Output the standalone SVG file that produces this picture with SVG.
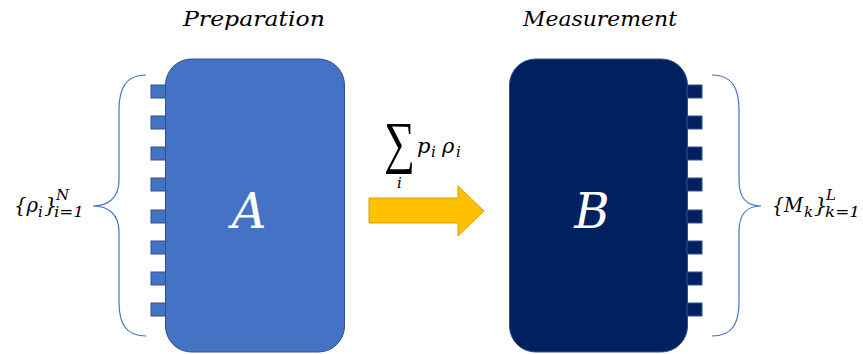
<svg xmlns="http://www.w3.org/2000/svg" width="863" height="354" viewBox="0 0 863 354">
<style>
.t{font-family:"DejaVu Serif","Liberation Serif",serif;font-style:italic;fill:#000}
.m{font-size:21px}
.s{font-size:15px}
.brace{fill:none;stroke:#4472C4;stroke-width:1.2}
.pa{fill:#4472C4;stroke:#2F528F;stroke-width:1}
.pb{fill:#002060;stroke:#2F5597;stroke-width:1}
</style>
<rect width="863" height="354" fill="#fff"/>
<g id="title-prep"><text class="t" x="183" y="26" font-size="21" textLength="142" lengthAdjust="spacingAndGlyphs">Preparation</text></g>
<g id="title-meas"><text class="t" x="523" y="26" font-size="21" textLength="154" lengthAdjust="spacingAndGlyphs">Measurement</text></g>
<g id="nodeA">
<rect x="151" y="85" width="16" height="13" class="pa"/>
<rect x="151" y="116" width="16" height="13" class="pa"/>
<rect x="151" y="147" width="16" height="13" class="pa"/>
<rect x="151" y="178" width="16" height="13" class="pa"/>
<rect x="151" y="210" width="16" height="13" class="pa"/>
<rect x="151" y="241" width="16" height="13" class="pa"/>
<rect x="151" y="272" width="16" height="13" class="pa"/>
<rect x="151" y="303" width="16" height="13" class="pa"/>
<rect x="165.5" y="59" width="179" height="293" rx="26" fill="#4472C4" stroke="#2F528F" stroke-width="1"/>
<text class="t" x="249" y="228" font-size="48" style="fill:#fff" text-anchor="middle">A</text>
</g>
<g id="nodeB">
<rect x="509.5" y="59" width="178" height="293" rx="26" fill="#002060" stroke="#2F528F" stroke-width="1"/>
<rect x="687" y="85" width="15" height="13" class="pb"/>
<rect x="687" y="116" width="15" height="13" class="pb"/>
<rect x="687" y="147" width="15" height="13" class="pb"/>
<rect x="687" y="178" width="15" height="13" class="pb"/>
<rect x="687" y="210" width="15" height="13" class="pb"/>
<rect x="687" y="241" width="15" height="13" class="pb"/>
<rect x="687" y="272" width="15" height="13" class="pb"/>
<rect x="687" y="303" width="15" height="13" class="pb"/>
<text class="t" x="592" y="228" font-size="48" style="fill:#fff" text-anchor="middle">B</text>
</g>
<g id="braceLeft">
<path class="brace" d="M146,75 C126,75 119,88 119,110 L119,180 C119,198 108,206 93,206 C108,206 119,214 119,232 L119,302 C119,324 126,336 146,336"/>
<text class="t m" x="14" y="212" textLength="24" lengthAdjust="spacingAndGlyphs">{ρ</text>
<text class="t s" x="38" y="217">i</text>
<text class="t m" x="44" y="212">}</text>
<text class="t s" x="56" y="200">N</text>
<text class="t s" x="54" y="217" textLength="30" lengthAdjust="spacingAndGlyphs">i=1</text>
</g>
<g id="braceRight">
<path class="brace" d="M712,75 C732,75 739,88 739,110 L739,180 C739,198 746,206 761,206 C746,206 739,214 739,232 L739,302 C739,324 732,336 712,336"/>
<text class="t m" x="772" y="212" textLength="31" lengthAdjust="spacingAndGlyphs">{M</text>
<text class="t s" x="804" y="217">k</text>
<text class="t m" x="814" y="212">}</text>
<text class="t s" x="826" y="200">L</text>
<text class="t s" x="825" y="217" textLength="35" lengthAdjust="spacingAndGlyphs">k=1</text>
</g>
<g id="connectors">
<path d="M369,198 L458,198 L458,186 L484,211 L458,236 L458,223 L369,223 Z" fill="#FFC000" stroke="#D9A000" stroke-width="1"/>
<text x="384" y="162" font-size="58" font-family="Liberation Serif, serif" textLength="31" lengthAdjust="spacingAndGlyphs">∑</text>
<text class="t s" x="397" y="188">i</text>
<text class="t m" x="417" y="153">p</text>
<text class="t s" x="431" y="157">i</text>
<text class="t m" x="442" y="153">ρ</text>
<text class="t s" x="456" y="157">i</text>
</g>
</svg>
